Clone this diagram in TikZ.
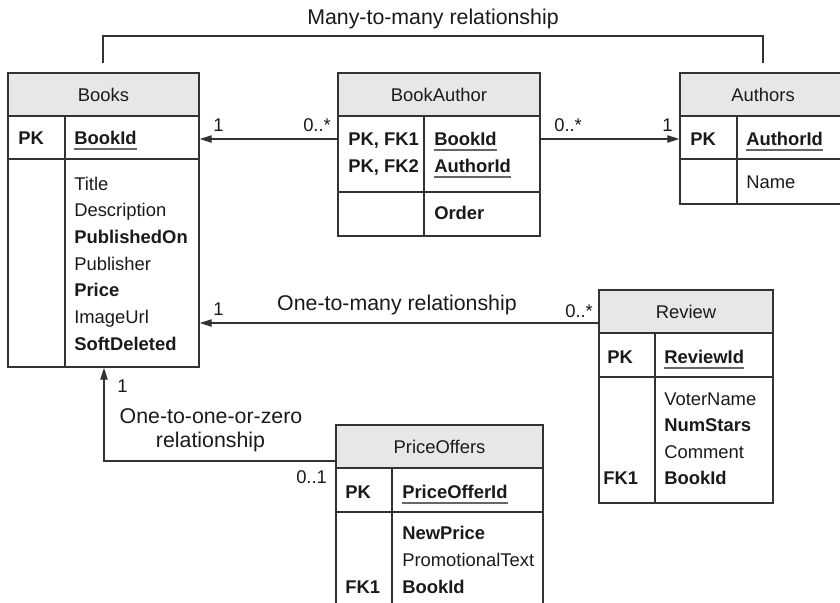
\documentclass[tikz,border=0pt]{standalone}
\usepackage{fontspec}
\setmainfont{Liberation Sans}
\usetikzlibrary{arrows.meta,fit}
\definecolor{hdr}{HTML}{E6E7E8}
\definecolor{ln}{HTML}{333333}
\definecolor{tx}{HTML}{1A1A1A}
\begin{document}
\begin{tikzpicture}[x=0.75pt,y=-0.75pt,
  tbl/.style={draw=ln, line width=1.1pt, inner sep=0pt},
  sepl/.style={draw=ln, line width=1.1pt},
  txt/.style={text=tx, inner sep=0pt, font=\fontsize{13.8}{16}\selectfont, anchor=base west},
  bf/.style={txt, font=\fontsize{13.8}{16}\selectfont\bfseries},
  ttl/.style={txt, anchor=base},
  rel/.style={txt, anchor=base, font=\fontsize{16}{18}\selectfont},
  ul/.style={draw=ln!75, line width=0.9pt},
  conn/.style={draw=ln, line width=1pt},
  arr/.style={conn, -{Triangle[length=9pt,width=5.5pt]}}
]
\useasboundingbox (0,0) rectangle (840,603);
\clip (0,0) rectangle (840,603);

% ---------- Books ----------
\fill[hdr] (8,73) rectangle (199,116);
\node[tbl, fit={(8,73) (199,367)}] (books) {};
\draw[sepl] (8,116) -- (199,116) (8,159) -- (199,159) (65,116) -- (65,367);
\node[ttl] (booksT) at (103.5,101) {Books};
\node[bf] (bkPK) at (18,144) {PK};
\node[bf] (bkId) at (74,144) {BookId};
\draw[ul] ([yshift=-3.75pt]bkId.base west) -- ([yshift=-3.75pt]bkId.base east);
\node[txt] (bk1) at (74,190) {Title};
\node[txt] (bk2) at (74,216.7) {Description};
\node[bf]  (bk3) at (74,243.4) {PublishedOn};
\node[txt] (bk4) at (74,270.1) {Publisher};
\node[bf]  (bk5) at (74,296.8) {Price};
\node[txt] (bk6) at (74,323.5) {ImageUrl};
\node[bf]  (bk7) at (74,350.2) {SoftDeleted};

% ---------- BookAuthor ----------
\fill[hdr] (338,73) rectangle (540,116);
\node[tbl, fit={(338,73) (540,236)}] (ba) {};
\draw[sepl] (338,116) -- (540,116) (338,192) -- (540,192) (424,116) -- (424,236);
\node[ttl] (baT) at (439,101) {BookAuthor};
\node[bf] (baK1) at (348,145) {PK, FK1};
\node[bf] (baK2) at (348,172) {PK, FK2};
\node[bf] (baB) at (434,145) {BookId};
\node[bf] (baA) at (434,172) {AuthorId};
\draw[ul] ([yshift=-3.75pt]baB.base west) -- ([yshift=-3.75pt]baB.base east);
\draw[ul] ([yshift=-3.75pt]baA.base west) -- ([yshift=-3.75pt]baA.base east);
\node[bf] (baO) at (434,219) {Order};

% ---------- Authors ----------
\fill[hdr] (680,73) rectangle (846,116);
\node[tbl, fit={(680,73) (846,204)}] (au) {};
\draw[sepl] (680,116) -- (846,116) (680,159) -- (846,159) (737,116) -- (737,204);
\node[ttl] (auT) at (763,101) {Authors};
\node[bf] (auPK) at (690,145) {PK};
\node[bf] (auId) at (746,145) {AuthorId};
\draw[ul] ([yshift=-3.75pt]auId.base west) -- ([yshift=-3.75pt]auId.base east);
\node[txt] (auN) at (746,188) {Name};

% ---------- Review ----------
\fill[hdr] (599,290) rectangle (773,333);
\node[tbl, fit={(599,290) (773,503)}] (rv) {};
\draw[sepl] (599,333) -- (773,333) (599,377) -- (773,377) (655,333) -- (655,503);
\node[ttl] (rvT) at (686,318) {Review};
\node[bf] (rvPK) at (607,363) {PK};
\node[bf] (rvId) at (664,363) {ReviewId};
\draw[ul] ([yshift=-3.75pt]rvId.base west) -- ([yshift=-3.75pt]rvId.base east);
\node[txt] (rv1) at (664,405) {VoterName};
\node[bf]  (rv2) at (664,431.5) {NumStars};
\node[txt] (rv3) at (664,458) {Comment};
\node[bf]  (rv4) at (664,484) {BookId};
\node[bf]  (rvFK) at (603,484) {FK1};

% ---------- PriceOffers ----------
\fill[hdr] (336,425) rectangle (543,468);
\node[tbl, fit={(336,425) (543,625)}] (po) {};
\draw[sepl] (336,468) -- (543,468) (336,512) -- (543,512) (392,468) -- (392,625);
\node[ttl] (poT) at (439.5,453) {PriceOffers};
\node[bf] (poPK) at (345,498) {PK};
\node[bf] (poId) at (402,498) {PriceOfferId};
\draw[ul] ([yshift=-3.75pt]poId.base west) -- ([yshift=-3.75pt]poId.base east);
\node[bf]  (po1) at (402,539) {NewPrice};
\node[txt] (po2) at (402,566) {PromotionalText};
\node[bf]  (po3) at (402,593) {BookId};
\node[bf]  (poFK) at (345,593) {FK1};

% ---------- connectors ----------
\coordinate (yBA) at (0,139);
\coordinate (yRv) at (0,323);
\coordinate (yPo) at (0,461);
\coordinate (xPo) at (104,0);
\draw[arr] (ba.west |- yBA) -- (books.east |- yBA);
\draw[arr] (ba.east |- yBA) -- (au.west |- yBA);
\draw[arr] (rv.west |- yRv) -- (books.east |- yRv);
\draw[arr] (po.west |- yPo) -| (xPo |- books.south);

\coordinate (mmL) at (103,63);
\coordinate (mmR) at (763,63);
\coordinate (mmTop) at (433,36);
\draw[conn] (mmL) |- (mmTop) -| (mmR);

% ---------- labels ----------
\node[rel] (mmLbl) at (433,24) {Many-to-many relationship};
\node[txt] (l1) at (213,131) {1};
\node[txt] (l2) at (303,131) {0..*};
\node[txt] (l3) at (554,131) {0..*};
\node[txt] (l4) at (662,131) {1};
\node[txt] (l5) at (213,315) {1};
\node[txt] (l6) at (565,317) {0..*};
\node[rel, anchor=base east] (omLbl) at (517,310) {One-to-many relationship};
\node[rel] (ooLbl1) at (211,423) {One-to-one-or-zero};
\node[rel] (ooLbl2) at (210.5,447) {relationship};
\node[txt] (l7) at (296,483) {0..1};
\node[txt] (l8) at (117,392) {1};
\end{tikzpicture}
\end{document}
